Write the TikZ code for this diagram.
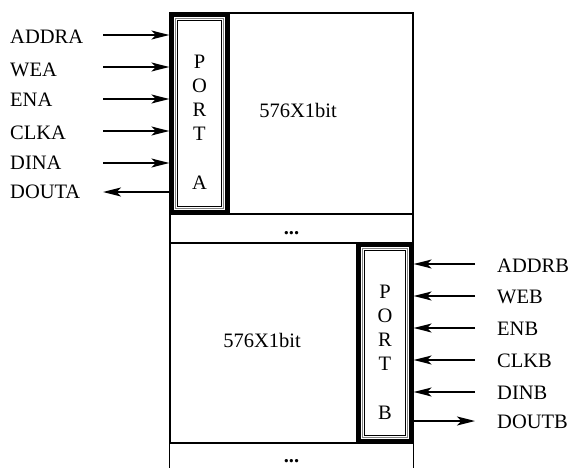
\documentclass[tikz,border=0pt]{standalone}
\usepackage{fontspec}
\setmainfont{Liberation Serif}
\usetikzlibrary{arrows.meta}
\tikzset{
  sig/.style={line width=1.5pt,-{Stealth[length=18pt,width=9pt,inset=4.5pt]}},
  lbl/.style={anchor=west,inner sep=0pt,font=\fontsize{20.5}{24}\selectfont},
  txt/.style={inner sep=0pt,font=\fontsize{20.5}{24}\selectfont},
  cell/.style={draw,line width=1.2pt,inner sep=0pt},
  port/.style={draw,line width=1.2pt,inner sep=0pt}
}
\newcommand{\portframe}[1]{%
  \draw[line width=3pt] ([shift={(3,3)}]#1.north west) rectangle ([shift={(-3,-3)}]#1.south east);
  \draw[line width=0.7pt,gray] ([shift={(5.8,5.8)}]#1.north west) rectangle ([shift={(-5.8,-5.8)}]#1.south east);
  \draw[line width=1pt] ([shift={(8.2,8.2)}]#1.north west) rectangle ([shift={(-8.2,-8.2)}]#1.south east);
}

\begin{document}
\begin{tikzpicture}[x=1pt,y=-1pt]
    \useasboundingbox (0,0) rectangle (570,468);
    % memory cells
    \node[cell,minimum width=243,minimum height=201] (upper) at (291.5,113.5) {};
    \node[cell,minimum width=243,minimum height=29] (gap) at (291.5,228.5) {};
    \node[cell,minimum width=243,minimum height=200] (lower) at (291.5,343) {};
    \draw[line width=1.2pt] (lower.south west) -- (lower.south west |- 0,468);
    \draw[line width=1.2pt] (lower.south east) -- (lower.south east |- 0,468);
    \node[txt] (dots1) at (gap.center) [yshift=-5] {\textbf{...}};
    \node[txt] (dots2) at (291.5,461) {\textbf{...}};
    \node[txt] (bitsA) at (298,110) {576X1bit};
    \node[txt] (bitsB) at (262,340) {576X1bit};
    % port A
    \node[port,minimum width=59,minimum height=201] (pa) at (199.5,113.5) {};
    \portframe{pa}
    \node[txt,align=center] (pat) at ([yshift=-9]pa.center) {P\\O\\R\\T\\[25pt]A};
    % port B
    \node[port,minimum width=56,minimum height=200] (pb) at (385,343) {};
    \portframe{pb}
    \node[txt,align=center] (pbt) at ([yshift=-9]pb.center) {P\\O\\R\\T\\[25pt]B};
    % port A signals
    \node[lbl] (addra) at (10,37) {ADDRA};
    \node[lbl] (wea) at (10,70) {WEA};
    \node[lbl] (ena) at (10,100) {ENA};
    \node[lbl] (clka) at (10,133) {CLKA};
    \node[lbl] (dina) at (10,163) {DINA};
    \node[lbl] (douta) at (10,192) {DOUTA};
    \coordinate (addra-s) at (103,35);
    \coordinate (wea-s) at (103,67);
    \coordinate (ena-s) at (103,99);
    \coordinate (clka-s) at (103,131);
    \coordinate (dina-s) at (103,163);
    \coordinate (douta-s) at (103,192);
    \draw[sig] (addra-s) -- (addra-s -| pa.west);
    \draw[sig] (wea-s) -- (wea-s -| pa.west);
    \draw[sig] (ena-s) -- (ena-s -| pa.west);
    \draw[sig] (clka-s) -- (clka-s -| pa.west);
    \draw[sig] (dina-s) -- (dina-s -| pa.west);
    \draw[sig] (douta-s -| pa.west) -- (douta-s);
    % port B signals
    \node[lbl] (addrb) at (497,266) {ADDRB};
    \node[lbl] (web) at (497,297) {WEB};
    \node[lbl] (enb) at (497,329) {ENB};
    \node[lbl] (clkb) at (497,361) {CLKB};
    \node[lbl] (dinb) at (497,393) {DINB};
    \node[lbl] (doutb) at (497,422) {DOUTB};
    \coordinate (addrb-s) at (475,264);
    \coordinate (web-s) at (475,296);
    \coordinate (enb-s) at (475,328);
    \coordinate (clkb-s) at (475,360);
    \coordinate (dinb-s) at (475,392);
    \coordinate (doutb-s) at (475,421);
    \draw[sig] (addrb-s) -- (addrb-s -| pb.east);
    \draw[sig] (web-s) -- (web-s -| pb.east);
    \draw[sig] (enb-s) -- (enb-s -| pb.east);
    \draw[sig] (clkb-s) -- (clkb-s -| pb.east);
    \draw[sig] (dinb-s) -- (dinb-s -| pb.east);
    \draw[sig] (doutb-s -| pb.east) -- (doutb-s);
\end{tikzpicture}
\end{document}
